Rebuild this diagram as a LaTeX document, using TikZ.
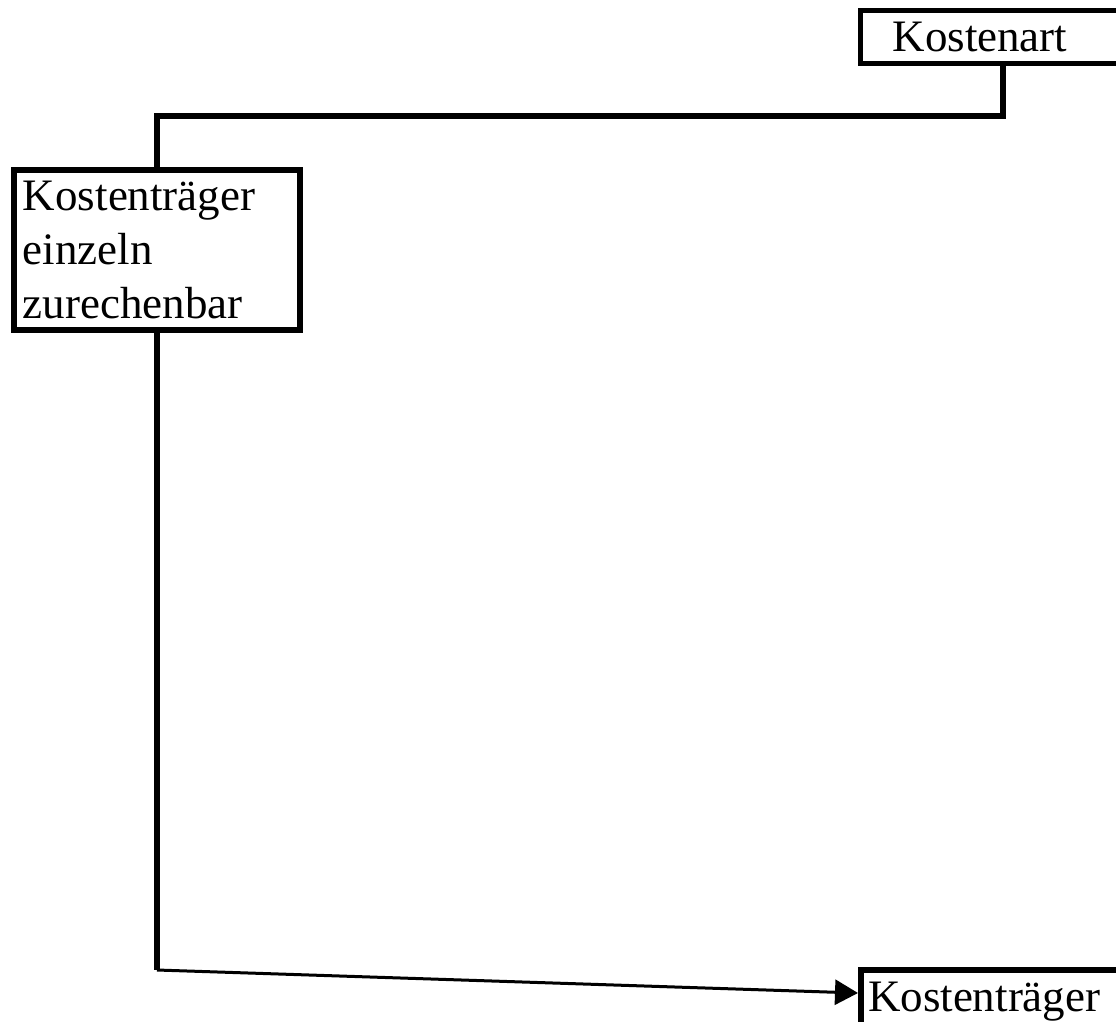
\documentclass[tikz,border=0pt]{standalone}
\usepackage{fontspec}
\setmainfont{Liberation Serif}
\usetikzlibrary{arrows.meta}
\tikzset{
  box/.style={draw=black, line width=5.5pt, inner sep=0pt, outer sep=0pt, align=left,
    font=\fontsize{45}{54}\selectfont, text=black},
  link/.style={draw=black, line width=5.5pt},
  thinlink/.style={draw=black, line width=3pt, -{Triangle[length=23pt,width=25pt]}}
}
\begin{document}
\begin{tikzpicture}[x=1pt,y=-1pt]
\useasboundingbox (0,0) rectangle (1116,1021);
\clip (0,0) rectangle (1116,1021);
\fill[white] (0,0) rectangle (1116,1021);
\node[box, anchor=north west, minimum width=300pt, minimum height=53pt, text width=236pt] (ka) at (860.5,10.5) {Kostenart};
\node[box, anchor=north west, minimum width=286pt, minimum height=160pt, text width=268pt] (kte) at (14,170) {Kostenträger\\einzeln\\zurechenbar};
\node[box, anchor=north west, inner xsep=7pt, inner ysep=12pt, text width=280pt] (kt) at (861,970) {Kostenträger};
\coordinate (j1) at (1003,116);
\coordinate (j2) at (157,970);
\coordinate (tip) at (858,993);
\draw[link] (ka.south -| j1) -- (j1) -| (kte.north);
\draw[link] (kte.south) -- (kte.south |- j2);
\draw[thinlink] (kte.south |- j2) -- (tip);
\end{tikzpicture}
\end{document}
